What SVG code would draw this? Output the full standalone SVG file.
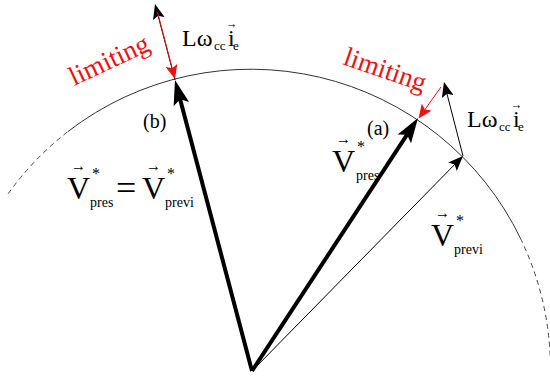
<svg xmlns="http://www.w3.org/2000/svg" width="550" height="379" viewBox="0 0 550 379">
<style>
.t{font-family:'Liberation Serif','DejaVu Serif',serif;fill:#000}
.red{font-family:'Liberation Serif','DejaVu Serif',serif;fill:#ee1111;font-size:27px}
.arc{fill:none;stroke:#333;stroke-width:1}
.dash{fill:none;stroke:#444;stroke-width:1;stroke-dasharray:5 4}
.thick{stroke:#000;stroke-width:4;fill:none}
.thin{stroke:#000;stroke-width:1;fill:none}
.rl{stroke:#ee1111;stroke-width:1;fill:none}
</style>
<defs>
<marker id="hThick" markerUnits="userSpaceOnUse" viewBox="0 0 26 18" markerWidth="26" markerHeight="18" refX="14" refY="9" orient="auto"><path d="M0,1 L25,9 L0,17 L5,9 z" fill="#000"/></marker>
<marker id="hThin" markerUnits="userSpaceOnUse" viewBox="0 0 15 12" markerWidth="15" markerHeight="12" refX="8" refY="6" orient="auto"><path d="M0,0 L15,6 L0,12 L3,6 z" fill="#000"/></marker>
<marker id="hRed" markerUnits="userSpaceOnUse" viewBox="0 0 14 12" markerWidth="14" markerHeight="12" refX="8" refY="6" orient="auto"><path d="M0,0 L14,6 L0,12 L3,6 z" fill="#ee1111"/></marker>
</defs>
<rect width="550" height="379" fill="#fff"/>
<g id="circle">
<path class="dash" d="M8.1,193.8 A299.5,299.5 0 0 1 68,131.5"/>
<path class="arc" d="M68,131.5 A299.5,299.5 0 0 1 520.4,238.2"/>
<path class="dash" d="M520.4,238.2 A299.5,299.5 0 0 1 550.3,358.5"/>
</g>
<g id="connectors">
<line class="thin" x1="252" y1="371" x2="458.1" y2="161" marker-end="url(#hThin)"/>
<line class="thin" x1="463" y1="156" x2="445.7" y2="88.8" marker-end="url(#hThin)"/>
<line class="thin" x1="175" y1="80" x2="156.8" y2="10.8" marker-end="url(#hThin)"/>
<line class="thick" x1="252" y1="371" x2="177.8" y2="90.6" marker-end="url(#hThick)"/>
<line class="thick" x1="252" y1="371" x2="412" y2="127.2" marker-end="url(#hThick)"/>
<line class="rl" x1="441" y1="87" x2="422" y2="113.6" marker-end="url(#hRed)"/>
<line class="rl" x1="157.5" y1="12" x2="173.5" y2="73.2" marker-end="url(#hRed)"/>
</g>
<g id="label-limiting-b">
<text class="red" x="74" y="86" transform="rotate(-25 74 86)">limiting</text>
</g>
<g id="label-limiting-a">
<text class="red" x="342" y="64" transform="rotate(19 342 64)">limiting</text>
</g>
<g id="label-Lwi-b">
<text class="t" x="182" y="46" font-size="24">Lω</text>
<text class="t" x="214" y="50" font-size="13">cc</text>
<text class="t" x="228" y="46" font-size="24">i</text>
<text class="t" x="233" y="50" font-size="13">e</text>
<text class="t" x="226" y="28" font-size="14" textLength="11" lengthAdjust="spacingAndGlyphs">→</text>
</g>
<g id="label-Lwi-a">
<text class="t" x="467" y="127" font-size="24">Lω</text>
<text class="t" x="499" y="131" font-size="13">cc</text>
<text class="t" x="513" y="127" font-size="24">i</text>
<text class="t" x="518" y="131" font-size="13">e</text>
<text class="t" x="511" y="109" font-size="14" textLength="11" lengthAdjust="spacingAndGlyphs">→</text>
</g>
<g id="label-b">
<text class="t" x="143" y="128" font-size="20">(b)</text>
</g>
<g id="label-a">
<text class="t" x="367" y="135" font-size="20">(a)</text>
</g>
<g id="label-eq">
<text class="t" x="67" y="199" font-size="32">V</text>
<text class="t" x="71" y="171" font-size="16" textLength="15" lengthAdjust="spacingAndGlyphs">→</text>
<text class="t" x="92" y="179" font-size="16">*</text>
<text class="t" x="90" y="207" font-size="14">pres</text>
<text class="t" x="116" y="200" font-size="36">=</text>
<text class="t" x="142" y="199" font-size="32">V</text>
<text class="t" x="146" y="171" font-size="16" textLength="15" lengthAdjust="spacingAndGlyphs">→</text>
<text class="t" x="167" y="179" font-size="16">*</text>
<text class="t" x="165" y="207" font-size="14">previ</text>
</g>
<g id="label-pres">
<text class="t" x="332" y="172" font-size="32">V</text>
<text class="t" x="336" y="144" font-size="16" textLength="15" lengthAdjust="spacingAndGlyphs">→</text>
<text class="t" x="357" y="152" font-size="16">*</text>
<text class="t" x="356" y="180" font-size="14">pres</text>
</g>
<g id="label-previ">
<text class="t" x="431" y="246" font-size="32">V</text>
<text class="t" x="435" y="218" font-size="16" textLength="15" lengthAdjust="spacingAndGlyphs">→</text>
<text class="t" x="456" y="226" font-size="16">*</text>
<text class="t" x="454" y="254" font-size="14">previ</text>
</g>
</svg>
